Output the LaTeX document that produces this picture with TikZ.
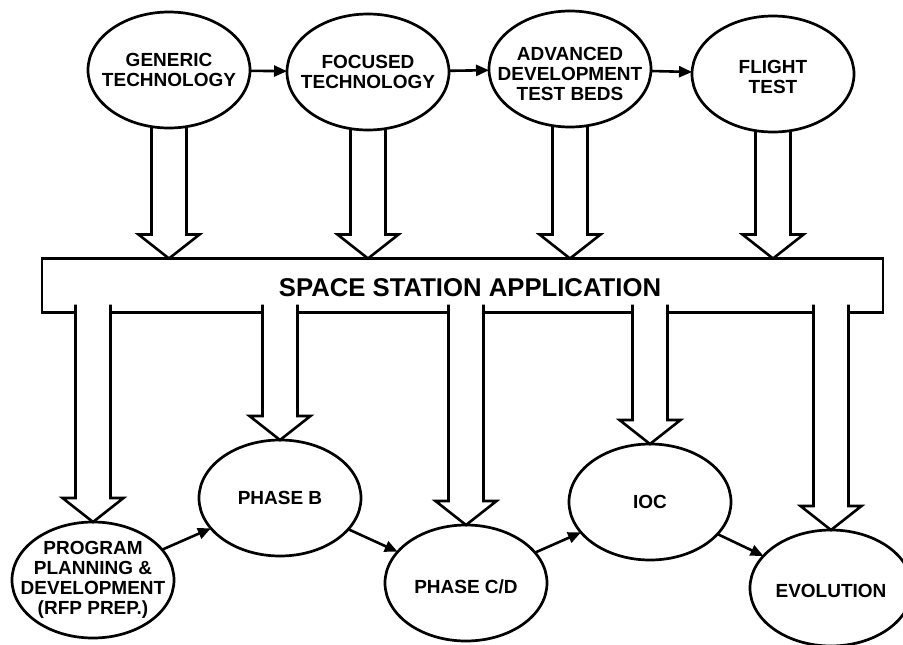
\documentclass[tikz,border=0pt]{standalone}
\usepackage{fontspec}
\setmainfont{Liberation Sans}
\usetikzlibrary{shapes.geometric,arrows.meta,calc}

\newcommand\lblfont{\fontsize{19}{20}\selectfont\bfseries}
\newcommand\barfont{\fontsize{25.7}{27}\selectfont\bfseries}
%% hollow wide arrow, x taken from the end point
\newcommand\fatarrow[3][]{%
  \draw[fat,#1] let \p1=(#2), \p2=(#3) in
    (\x2-17.5pt,\y1) -- (\x2-17.5pt,\y2+24pt) -- (\x2-30.5pt,\y2+24pt)
    -- (\x2,\y2) -- (\x2+30.5pt,\y2+24pt) -- (\x2+17.5pt,\y2+24pt)
    -- (\x2+17.5pt,\y1);}

\begin{document}
\begin{tikzpicture}[x=1pt,y=-1pt,
        ph/.style={ellipse,draw,line width=2.7pt,minimum width=162pt,minimum height=116pt,inner sep=0pt,outer sep=0pt},
        lbl/.style={font=\lblfont,align=center},
        fat/.style={line width=2.6pt,line join=miter},
        flow/.style={line width=2.6pt,-{Triangle[length=13pt,width=11pt]}}]
        \useasboundingbox (0,0) rectangle (903,645);
        %% technology row
        \node[ph,label={[lbl]center:GENERIC\\TECHNOLOGY}] (gen) at (169,70) {};
        \node[ph,label={[lbl]center:FOCUSED\\TECHNOLOGY}] (foc) at (368,72) {};
        \node[ph,label={[lbl,yshift=-5pt]center:ADVANCED\\DEVELOPMENT\\TEST BEDS}] (adv) at (570,69) {};
        \node[ph,label={[lbl,yshift=-3pt]center:FLIGHT\\TEST}] (flt) at (773,74) {};
        \draw[flow] (gen) -- (foc);
        \draw[flow] (foc) -- (adv);
        \draw[flow] (adv) -- (flt);
        %% application bar
        \node[draw,line width=2.6pt,minimum width=841pt,minimum height=54pt,inner sep=0pt,outer sep=0pt] (ssa) at (462.5,285.5) {};
        \node[font=\barfont] (ssatext) at (470,288) {SPACE STATION APPLICATION};
        \fatarrow{gen.south}{gen.south |- ssa.north}
        \fatarrow{foc.south}{foc.south |- ssa.north}
        \fatarrow{adv.south}{adv.south |- ssa.north}
        \fatarrow{flt.south}{flt.south |- ssa.north}
        %% program row
        \node[ph,label={[lbl]center:PROGRAM\\PLANNING \&\\DEVELOPMENT\\(RFP PREP.)}] (pp) at (93,580) {};
        \node[ph,label={[lbl]center:PHASE B}] (phb) at (280,498) {};
        \node[ph,label={[lbl,yshift=-4pt]center:PHASE C/D}] (phcd) at (466,583) {};
        \node[ph,label={[lbl]center:IOC}] (ioc) at (650,502) {};
        \node[ph,label={[lbl,yshift=-3pt]center:EVOLUTION}] (evo) at (831,588) {};
        \draw[flow] (pp) -- (phb);
        \draw[flow] (phb) -- (phcd);
        \draw[flow] (phcd) -- (ioc);
        \draw[flow] (ioc) -- (evo);
        %% bar down to each phase
        \fatarrow[fill=white]{[yshift=8pt]ssa.south}{pp.north}
        \fatarrow[fill=white]{[yshift=8pt]ssa.south}{phb.north}
        \fatarrow[fill=white]{[yshift=8pt]ssa.south}{phcd.north}
        \fatarrow[fill=white]{[yshift=8pt]ssa.south}{ioc.north}
        \fatarrow[fill=white]{[yshift=8pt]ssa.south}{evo.north}
    \end{tikzpicture}
\end{document}
